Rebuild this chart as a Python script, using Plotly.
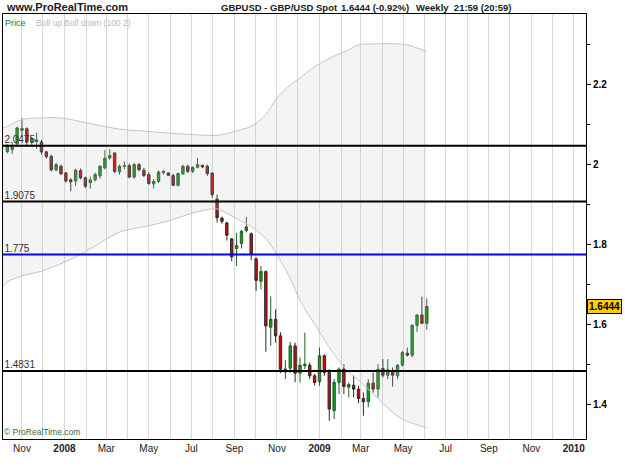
import pandas as pd
import plotly.graph_objects as go

# ---------------- data ----------------
week_end = pd.date_range("2007-10-19", periods=87, freq="7D")  # weekly bars (Fri)

open_ = [2.033, 2.038, 2.052, 2.086, 2.09, 2.057, 2.058, 2.057, 2.032, 2.021,
         1.987, 1.996, 1.979, 1.962, 1.959, 1.985, 1.967, 1.955, 1.962, 1.972,
         1.992, 2.0167, 2.029, 1.982, 1.996, 1.9975, 1.969, 2.0, 1.986, 1.975,
         1.9517, 1.958, 1.980, 1.979, 1.9725, 1.9483, 1.9767, 1.9958, 1.9833, 1.9933,
         1.9983, 1.996, 1.979, 1.914, 1.866, 1.854, 1.814, 1.79, 1.8025, 1.835,
         1.8267, 1.764, 1.708, 1.732, 1.5925, 1.6125, 1.571, 1.481, 1.49, 1.5458,
         1.4775, 1.4958, 1.4975, 1.4708, 1.456, 1.521, 1.479, 1.3833, 1.4542, 1.4875,
         1.4425, 1.4475, 1.4375, 1.4142, 1.4058, 1.4525, 1.4375, 1.489, 1.4725, 1.4833,
         1.4708, 1.4975, 1.5275, 1.5225, 1.5975, 1.6233, 1.6025]
high = [2.052, 2.055, 2.095, 2.1167, 2.093, 2.07, 2.08, 2.062, 2.035, 2.025,
        2.005, 2.0, 1.982, 1.966, 1.99, 1.99, 1.97, 1.97, 1.98, 1.998,
        2.036, 2.039, 2.031, 2.0, 2.008, 2.0025, 2.004, 2.004, 1.992, 1.981,
        1.964, 1.985, 1.986, 1.981, 1.977, 1.98, 2.0, 2.0, 1.996, 2.0167,
        2.0, 2.0, 1.981, 1.925, 1.87, 1.857, 1.816, 1.829, 1.836, 1.869,
        1.83, 1.767, 1.746, 1.735, 1.67, 1.6375, 1.58, 1.51, 1.556, 1.554,
        1.517, 1.579, 1.504, 1.475, 1.5417, 1.525, 1.4875, 1.4625, 1.4917, 1.5,
        1.4542, 1.4708, 1.4458, 1.4292, 1.4625, 1.479, 1.5, 1.5125, 1.5125, 1.4917,
        1.5, 1.5333, 1.5417, 1.6, 1.625, 1.6692, 1.665]
low = [2.028, 2.027, 2.045, 2.07, 2.045, 2.05, 2.04, 2.025, 2.015, 1.983,
       1.983, 1.974, 1.955, 1.933, 1.946, 1.963, 1.941, 1.94, 1.958, 1.965,
       1.988, 2.0125, 1.979, 1.975, 1.988, 1.966, 1.964, 1.983, 1.969, 1.95,
       1.94, 1.954, 1.975, 1.971, 1.946, 1.945, 1.975, 1.979, 1.979, 1.991,
       1.991, 1.972, 1.917, 1.855, 1.852, 1.810, 1.758, 1.746, 1.79, 1.83,
       1.761, 1.683, 1.6875, 1.531, 1.546, 1.554, 1.4775, 1.463, 1.478, 1.455,
       1.454, 1.4875, 1.4625, 1.446, 1.446, 1.471, 1.3583, 1.3625, 1.425, 1.425,
       1.4167, 1.4167, 1.4025, 1.3708, 1.3917, 1.429, 1.4167, 1.4667, 1.4625, 1.4442,
       1.4625, 1.4942, 1.519, 1.5167, 1.581, 1.6, 1.586]
close = [2.048, 2.044, 2.092, 2.091, 2.057, 2.065, 2.062, 2.032, 2.02, 1.987,
         2.0, 1.977, 1.959, 1.957, 1.986, 1.967, 1.946, 1.962, 1.975, 1.996,
         2.016, 2.023, 1.983, 1.996, 1.997, 1.969, 2.0, 1.9875, 1.973, 1.9525,
         1.958, 1.9817, 1.983, 1.9733, 1.9483, 1.9775, 1.9958, 1.9833, 1.9933, 2.0,
         1.9942, 1.9775, 1.925, 1.867, 1.858, 1.823, 1.769, 1.7975, 1.833, 1.844,
         1.775, 1.71, 1.732, 1.596, 1.6125, 1.571, 1.4875, 1.488, 1.546, 1.4775,
         1.4975, 1.5, 1.4708, 1.4542, 1.521, 1.479, 1.3875, 1.4542, 1.4875, 1.4442,
         1.4492, 1.4375, 1.4142, 1.4058, 1.4525, 1.4375, 1.4875, 1.4725, 1.4858, 1.4725,
         1.4975, 1.529, 1.5225, 1.5975, 1.6233, 1.6025, 1.6444]

# Bollinger (100, 2) read at selected bar indices
band_idx = [-1, 0, 3, 7, 11, 15, 19, 23, 27, 31, 35, 39, 43, 45, 48, 50, 53, 55,
            58, 60, 63, 67, 70, 72, 75, 80, 82, 86]
boll_up = [2.092, 2.096, 2.113, 2.117, 2.117, 2.108, 2.098, 2.089, 2.085, 2.081,
           2.0775, 2.0745, 2.0735, 2.078, 2.088, 2.096, 2.125, 2.162, 2.20, 2.217,
           2.245, 2.272, 2.288, 2.30, 2.3025, 2.3025, 2.30, 2.283]
boll_dn = [1.695, 1.706, 1.721, 1.733, 1.752, 1.775, 1.804, 1.831, 1.842, 1.8525,
           1.8667, 1.882, 1.889, 1.878, 1.858, 1.845, 1.815, 1.78, 1.715, 1.66,
           1.60, 1.525, 1.48, 1.46, 1.425, 1.37, 1.357, 1.34]

levels = [2.0475, 1.9075, 1.775, 1.4831]
level_labels = ["2.0475", "1.9075", "1.775", "1.4831"]
level_colors = ["#000000", "#000000", "#0000ee", "#000000"]

tick_dates = ["2007-11-01", "2008-01-01", "2008-03-01", "2008-05-01", "2008-07-01",
              "2008-09-01", "2008-11-01", "2009-01-01", "2009-03-01", "2009-05-01",
              "2009-07-01", "2009-09-01", "2009-11-01", "2010-01-01"]
tick_text = ["Nov", "<b>2008</b>", "Mar", "May", "Jul", "Sep", "Nov", "<b>2009</b>",
             "Mar", "May", "Jul", "Sep", "Nov", "<b>2010</b>"]
year_lines = ["2008-01-01", "2009-01-01"]
last_price = 1.6444

# ---------------- figure ----------------
x_range = [pd.Timestamp("2007-10-04 18:00"), pd.Timestamp("2010-01-18 12:00")]
plot_x = week_end - pd.Timedelta(days=8)   # bar drawing position
band_x = [plot_x[0] + pd.Timedelta(days=7 * i) for i in band_idx]

fig = go.Figure()
fig.add_trace(go.Scatter(x=band_x, y=boll_up, mode="lines", line=dict(color="#c4c4c4", width=1, shape="spline"),
                         hoverinfo="skip", showlegend=False))
fig.add_trace(go.Scatter(x=band_x, y=boll_dn, mode="lines", line=dict(color="#c4c4c4", width=1, shape="spline"),
                         fill="tonexty", fillcolor="rgba(190,190,190,0.17)", hoverinfo="skip", showlegend=False))
# level labels drawn below the candles
fig.add_trace(go.Scatter(x=[x_range[0] + pd.Timedelta(days=2)] * len(levels), y=levels,
                         mode="text", text=level_labels, textposition="top right",
                         textfont=dict(family="Liberation Sans", size=10, color="#333333"),
                         hoverinfo="skip", showlegend=False))
fig.add_trace(go.Candlestick(
    x=plot_x, open=open_, high=high, low=low, close=close,
    increasing=dict(line=dict(color="#2a5a2a", width=1), fillcolor="#0f9f0f"),
    decreasing=dict(line=dict(color="#2a2a2a", width=1), fillcolor="#e00000"),
    whiskerwidth=0, showlegend=False))

for v, c in zip(levels, level_colors):
    fig.add_shape(type="line", xref="paper", x0=0, x1=1, yref="y", y0=v, y1=v,
                  line=dict(color=c, width=2))
for d in year_lines:
    fig.add_shape(type="line", xref="x", x0=d, x1=d, yref="paper", y0=0, y1=1,
                  line=dict(color="#a8a8a8", width=1), layer="below")

W, H, L, R, T, B = 625, 469, 3, 39, 14, 30
pw, ph = W - L - R, H - T - B

def px(xp):
    return (xp - L) / pw

def py(yp):
    return 1 - (yp - T) / ph

hdr = dict(family="Liberation Sans", size=11, color="#1a1a1a", weight="bold")
ttl = dict(family="Liberation Sans", size=9.5, color="#1a1a1a", weight="bold")
fig.add_annotation(xref="paper", yref="paper", x=px(4), y=py(7), xanchor="left", yanchor="middle",
                   text="www.ProRealTime.com", showarrow=False, font=hdr)
fig.add_annotation(xref="paper", yref="paper", x=px(219), y=py(7), xanchor="left", yanchor="middle",
                   text="GBPUSD - GBP/USD Spot", showarrow=False, font=ttl)
fig.add_annotation(xref="paper", yref="paper", x=px(339), y=py(7), xanchor="left", yanchor="middle",
                   text="1.6444 (-0.92%)", showarrow=False, font=ttl)
fig.add_annotation(xref="paper", yref="paper", x=px(414), y=py(7), xanchor="left", yanchor="middle",
                   text="Weekly&nbsp; 21:59 (20:59)", showarrow=False, font=ttl)
fig.add_annotation(xref="paper", yref="paper", x=px(3), y=py(23), xanchor="left", yanchor="middle",
                   text="Price", showarrow=False,
                   font=dict(family="Liberation Sans", size=9, color="#1a7a1a"))
fig.add_annotation(xref="paper", yref="paper", x=px(34), y=py(23), xanchor="left", yanchor="middle",
                   text="Boll up Boll down (100 2)", showarrow=False,
                   font=dict(family="Liberation Sans", size=8.5, color="#b8b8b8"))
fig.add_annotation(xref="paper", yref="paper", x=px(2), y=py(432), xanchor="left", yanchor="middle",
                   text="© ProRealTime.com", showarrow=False,
                   font=dict(family="Liberation Sans", size=8.5, color="#2f6f2f"))
fig.add_annotation(xref="paper", x=1, xanchor="left", xshift=1, yref="y", y=last_price,
                   yanchor="middle", text="<b>%.4f</b>" % last_price, showarrow=False,
                   bgcolor="#ffcc00", bordercolor="#000000", borderwidth=1, borderpad=1,
                   font=dict(family="Liberation Sans", size=10, color="#000000"))

fig.update_layout(
    width=W, height=H, margin=dict(l=L, r=R, t=T, b=B),
    paper_bgcolor="white", plot_bgcolor="white", showlegend=False,
    xaxis=dict(type="date", range=x_range,
               rangeslider=dict(visible=False),
               tickvals=tick_dates, ticktext=tick_text, ticks="",
               tickfont=dict(family="Liberation Sans", size=10, color="#222222"),
               showgrid=True, gridcolor="#d8d8d8", gridwidth=1,
               minor=dict(dtick="M1", tick0="2007-10-01", showgrid=True, gridcolor="#d8d8d8", gridwidth=1),
               showline=True, linecolor="#000000", linewidth=1, mirror=True, zeroline=False),
    yaxis=dict(side="right", range=[1.3125, 2.3775], tick0=1.4, dtick=0.2,
               ticks="outside", ticklen=4, tickcolor="#000000",
               tickfont=dict(family="Liberation Sans", size=10, color="#000000", weight="bold"),
               minor=dict(dtick=0.1, ticks="outside", ticklen=3, tickcolor="#000000", showgrid=False),
               showgrid=False, zeroline=False,
               showline=True, linecolor="#000000", linewidth=1, mirror=True),
)

fig.write_html("out.html")
